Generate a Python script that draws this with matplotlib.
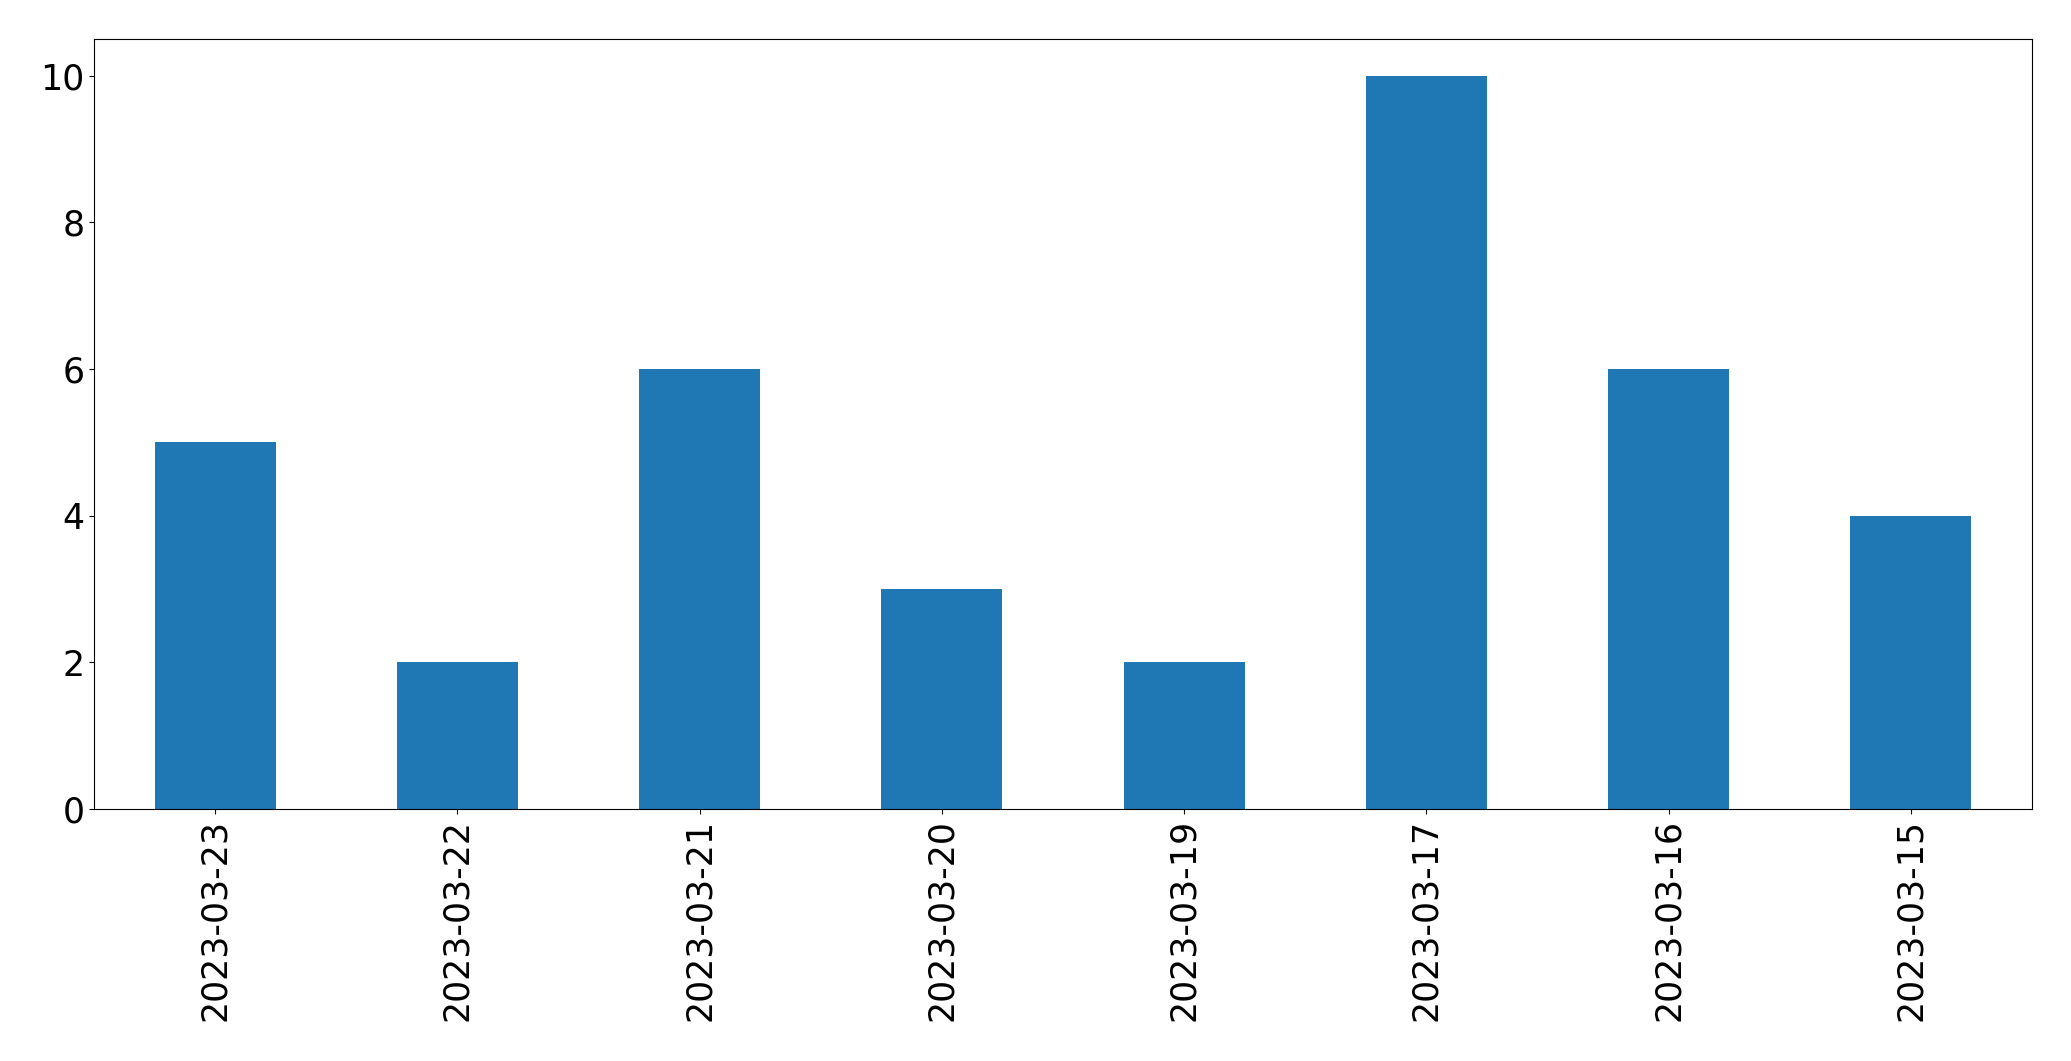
import matplotlib
matplotlib.use("Agg")
import matplotlib.pyplot as plt
import pandas as pd

dates = ["2023-03-23", "2023-03-22", "2023-03-21", "2023-03-20",
         "2023-03-19", "2023-03-17", "2023-03-16", "2023-03-15"]
counts = [5, 2, 6, 3, 2, 10, 6, 4]

series = pd.Series(counts, index=dates)

fig, ax = plt.subplots(figsize=(20.71, 10.61), dpi=100)
fig.subplots_adjust(left=94 / 2071, right=2032 / 2071,
                    top=1 - 39 / 1061, bottom=1 - 809 / 1061)

series.plot(kind="bar", ax=ax, color="#1f77b4", width=0.5)
ax.tick_params(axis="both", labelsize=25)
ax.set_xlabel("")

fig.savefig("out.png", dpi=100)
